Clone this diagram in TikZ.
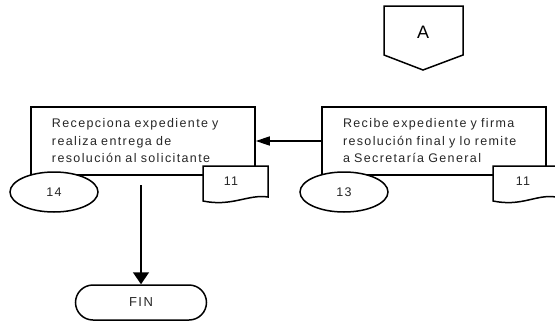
\documentclass[tikz,border=0pt]{standalone}
\usepackage{fontspec}
\setmainfont{Liberation Sans}
\newfontfamily\boxfont[LetterSpace=11]{Liberation Sans}
\usetikzlibrary{shapes.geometric,shapes.misc,arrows.meta}
\begin{document}
\begin{tikzpicture}[x=1pt,y=-1pt,line width=1.5pt,
  procbox/.style={draw,rectangle,minimum width=224pt,minimum height=68pt,
    text width=182pt,align=left,inner xsep=21pt,inner ysep=0pt,
    font=\boxfont\fontsize{12.5}{17.5}\selectfont,text=black!85},
  refell/.style={draw,fill=white,ellipse,minimum width=88pt,minimum height=40pt,inner sep=0pt,
    font=\boxfont\fontsize{12.5}{14}\selectfont,text=black!85},
  doclabel/.style={font=\boxfont\fontsize{12.5}{14}\selectfont,text=black!85,inner sep=0pt},
  docshape/.style={draw,fill=white},
  term/.style={draw,rounded rectangle,minimum width=131pt,minimum height=35pt,inner sep=0pt,
    font=\boxfont\fontsize{13}{14}\selectfont,text=black!85},
  flow/.style={-{Triangle[width=9pt,length=14pt]}}]
\useasboundingbox (0,0) rectangle (555,322);

% connector A
\draw[fill=white] (384,6) -- (463,6) -- (463,55) -- (423,70) -- (384,55) -- cycle;
\node[font=\fontsize{18}{20}\selectfont] (A) at (423,32) {A};

% process boxes
\node[procbox] (b1) at (143,141) {Recepciona expediente y\\realiza entrega de\\resolución al solicitante};
\node[procbox] (b2) at (434,141) {Recibe expediente y firma\\resolución final y lo remite\\a Secretaría General};

% documents
\draw[docshape] (203,166) -- (268,166) -- (268,197)
  .. controls (248,194) and (232,207) .. (203,201) -- cycle;
\node[doclabel] (d1) at (231,181) {11};
\draw[docshape] (493,166) -- (556,166) -- (556,197)
  .. controls (536,194) and (522,207) .. (493,201) -- cycle;
\node[doclabel] (d2) at (523,181) {11};

% reference ellipses
\node[refell] (e14) at (54,192) {14};
\node[refell] (e13) at (344,192) {13};

% terminator
\node[term] (fin) at (141,302.5) {FIN};

% connectors
\draw[flow] (b2.west) -- (b1.east);
\coordinate (s1) at (141,185);
\draw[-{Triangle[width=16pt,length=12pt]}] (s1) -- (fin.north);
\end{tikzpicture}
\end{document}
